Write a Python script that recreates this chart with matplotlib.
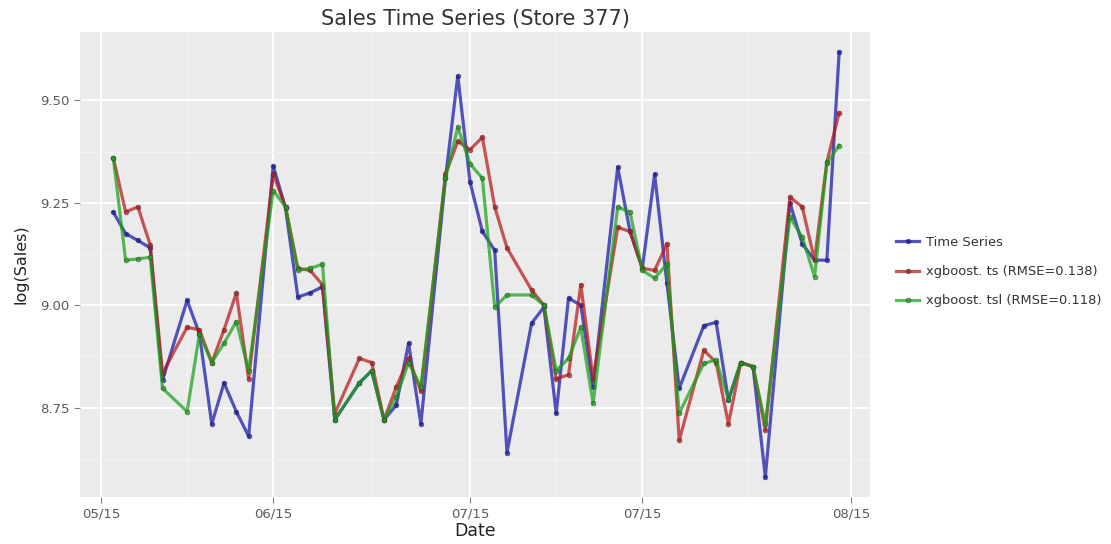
import numpy as np
import pandas as pd
import matplotlib
matplotlib.use("Agg")
import matplotlib.pyplot as plt

# dates (store closed on sundays, so those are missing)
dates = pd.to_datetime([
    "2015-06-02", "2015-06-03", "2015-06-04", "2015-06-05", "2015-06-06",
    "2015-06-08", "2015-06-09", "2015-06-10", "2015-06-11", "2015-06-12", "2015-06-13",
    "2015-06-15", "2015-06-16", "2015-06-17", "2015-06-18", "2015-06-19", "2015-06-20",
    "2015-06-22", "2015-06-23", "2015-06-24", "2015-06-25", "2015-06-26", "2015-06-27",
    "2015-06-29", "2015-06-30", "2015-07-01", "2015-07-02", "2015-07-03", "2015-07-04",
    "2015-07-06", "2015-07-07", "2015-07-08", "2015-07-09", "2015-07-10", "2015-07-11",
    "2015-07-13", "2015-07-14", "2015-07-15", "2015-07-16", "2015-07-17", "2015-07-18",
    "2015-07-20", "2015-07-21", "2015-07-22", "2015-07-23", "2015-07-24", "2015-07-25",
    "2015-07-27", "2015-07-28", "2015-07-29", "2015-07-30", "2015-07-31",
])

actual = [9.227, 9.175, 9.158, 9.140, 8.817,
          9.012, 8.930, 8.710, 8.810, 8.740, 8.680,
          9.340, 9.237, 9.020, 9.030, 9.045, 8.720,
          8.810, 8.840, 8.720, 8.756, 8.907, 8.710,
          9.310, 9.560, 9.300, 9.180, 9.134, 8.640,
          8.956, 8.995, 8.736, 9.017, 9.000, 8.800,
          9.337, 9.180, 9.090, 9.320, 9.054, 8.797,
          8.950, 8.958, 8.768, 8.860, 8.850, 8.580,
          9.250, 9.150, 9.110, 9.110, 9.618]

pred_ts = [9.360, 9.228, 9.240, 9.147, 8.834,
           8.946, 8.940, 8.860, 8.940, 9.030, 8.820,
           9.320, 9.240, 9.090, 9.085, 9.050, 8.735,
           8.870, 8.860, 8.720, 8.800, 8.870, 8.790,
           9.320, 9.400, 9.380, 9.410, 9.240, 9.140,
           9.037, 9.000, 8.820, 8.830, 9.050, 8.820,
           9.190, 9.180, 9.090, 9.085, 9.150, 8.670,
           8.890, 8.860, 8.710, 8.860, 8.850, 8.695,
           9.264, 9.240, 9.110, 9.350, 9.470]

pred_tsl = [9.360, 9.110, 9.113, 9.117, 8.797,
            8.740, 8.930, 8.860, 8.907, 8.960, 8.840,
            9.280, 9.240, 9.085, 9.090, 9.100, 8.720,
            8.810, 8.840, 8.720, 8.775, 8.860, 8.800,
            9.310, 9.435, 9.345, 9.310, 8.995, 9.025,
            9.025, 9.000, 8.840, 8.870, 8.946, 8.760,
            9.240, 9.227, 9.085, 9.066, 9.100, 8.736,
            8.858, 8.866, 8.770, 8.860, 8.850, 8.710,
            9.215, 9.166, 9.070, 9.347, 9.390]

labels = ["Time Series", "xgboost. ts (RMSE=0.138)", "xgboost. tsl (RMSE=0.118)"]
tick_dates = pd.to_datetime(["2015-06-01", "2015-06-15", "2015-07-01", "2015-07-15", "2015-08-01"])
tick_labels = ["05/15", "06/15", "07/15", "07/15", "08/15"]
y_ticks = [8.75, 9.00, 9.25, 9.50]

fig = plt.figure(figsize=(11.11, 5.44), dpi=100)
ax = fig.add_axes([0.072, 0.086, 0.711, 0.855])
ax.set_facecolor("#EBEBEB")

series = [actual, pred_ts, pred_tsl]
colors = ["#1515a8", "#b81818", "#18a018"]
for vals, c, lab in zip(series, colors, labels):
    ax.plot(dates, vals, color=c, lw=2.3, alpha=0.72, marker="o", ms=3.5,
            mec="#333333", mew=0.4, label=lab)

ax.set_xlim(pd.Timestamp("2015-05-30 07:00"), pd.Timestamp("2015-08-02 12:00"))
ax.set_ylim(8.531, 9.667)

ax.set_xticks(tick_dates)
ax.set_xticklabels(tick_labels)
ax.set_yticks(y_ticks)
ax.set_yticklabels([f"{v:.2f}" for v in y_ticks])
minor_x = tick_dates[:-1] + (tick_dates[1:] - tick_dates[:-1]) / 2
ax.set_xticks(minor_x, minor=True)
ax.set_yticks([8.625, 8.875, 9.125, 9.375], minor=True)
ax.grid(which="major", color="white", lw=1.4)
ax.grid(which="minor", color="#F5F5F5", lw=0.7)
ax.set_axisbelow(True)
for s in ax.spines.values():
    s.set_visible(False)
ax.tick_params(which="major", colors="#7F7F7F", labelcolor="#5A5A5A", labelsize=9.5, length=4)
ax.tick_params(which="minor", length=0)

ax.set_title("Sales Time Series (Store 377)", fontsize=15, color="#333333", pad=5)
ax.set_xlabel("Date", fontsize=12.5, color="#222222", labelpad=1)
ax.set_ylabel("log(Sales)", fontsize=11.5, color="#222222", labelpad=8)

leg = ax.legend(loc="center left", bbox_to_anchor=(1.018, 0.485), frameon=False,
                fontsize=9.4, handlelength=1.8, handletextpad=0.5, labelspacing=1.25)
for t in leg.get_texts():
    t.set_color("#333333")

fig.savefig("out.png", dpi=100)
